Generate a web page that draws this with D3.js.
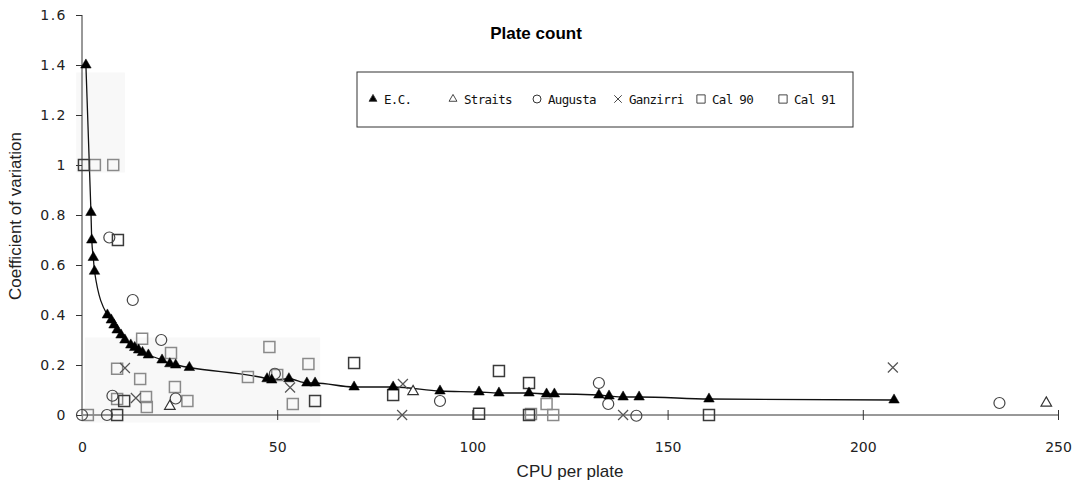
<!DOCTYPE html>
<html lang="en">
<head>
<meta charset="utf-8">
<title>Plate count</title>
<script src="https://d3js.org/d3.v7.min.js"></script>
<style>
  body { margin: 0; background: #fff; }
  .tick text { font-family: "DejaVu Sans", sans-serif; font-size: 14px; fill: #222; }
  .ytick text { letter-spacing: 1.5px; }
</style>
</head>
<body>
<svg width="1072" height="485"></svg>
<script>
// data: [CPU per plate, coefficient of variation]
var ec = [[1,1.4],[2.3,0.81],[2.5,0.70],[2.9,0.63],[3.2,0.575],[6.5,0.40],[7.5,0.38],[8.2,0.36],
          [9,0.34],[10,0.32],[11,0.30],[12.5,0.28],[13.5,0.27],[14.5,0.26],[15.5,0.25],[17,0.24],
          [20.5,0.22],[22.5,0.205],[24,0.2],[27.5,0.19],[47.4,0.145],[48.6,0.14],[53,0.145],
          [57.6,0.128],[59.7,0.128],[69.7,0.112],[79.7,0.112],[91.7,0.096],[101.7,0.092],
          [106.8,0.088],[114.5,0.088],[119,0.084],[121,0.084],[132.4,0.08],[135,0.076],
          [138.6,0.072],[142.7,0.072],[160.6,0.064],[208,0.06]];
var straits = [[22.5,0.035],[84.8,0.094],[247,0.048]];
var augusta = [[0,0],[6.4,0],[7,0.71],[7.8,0.077],[13,0.46],[20.3,0.30],[24,0.066],[49.4,0.165],
               [91.7,0.056],[132.4,0.128],[134.8,0.044],[142,-0.003],[235,0.048]];
var ganzirri = [[11,0.188],[13.8,0.068],[53.3,0.11],[82.2,0.124],[82,0],[138.6,0],[207.7,0.19]];
var cal90 = [[3.3,1.0],[8,1.0],[9,0.185],[14.9,0.144],[15.4,0.305],[22.8,0.248],[23.8,0.112],
             [9,0.064],[16.4,0.072],[16.6,0.032],[27,0.056],[1.5,0],[42.5,0.152],[48,0.272],
             [50,0.16],[58,0.204],[54,0.044],[119,0.044],[115,0.004],[120.7,0]];
var cal91 = [[0.5,1.0],[9.2,0.70],[10.8,0.056],[9,0],[59.7,0.056],[69.7,0.208],[79.7,0.08],
             [106.8,0.176],[114.5,0.128],[101.7,0.005],[114.5,0],[160.6,0]];
var xTicks = [0,50,100,150,200,250];
var yTicks = [0,0.2,0.4,0.6,0.8,1,1.2,1.4,1.6];
var legendNames = ["E.C.","Straits","Augusta","Ganzirri","Cal 90","Cal 91"];

var svg = d3.select("svg");
var x = d3.scaleLinear().domain([0,250]).range([82,1058]);
var y = d3.scaleLinear().domain([0,1.6]).range([415,15]);

// faint scan shading
svg.append("rect").attr("x", x(-1.5)).attr("y", y(1.37)).attr("width", x(11) - x(-1.5))
   .attr("height", y(0.97) - y(1.37)).attr("fill", "#f8f8f8");
svg.append("rect").attr("x", x(0.8)).attr("y", y(0.31)).attr("width", x(61) - x(0.8))
   .attr("height", y(-0.03) - y(0.31)).attr("fill", "#f8f8f8");

// axes
var gx = svg.append("g").attr("transform", "translate(0," + y(0) + ")")
  .call(d3.axisBottom(x).tickValues(xTicks).tickSize(5).tickPadding(22));
gx.selectAll(".tick line").attr("y1", -5).attr("stroke", "#333");
gx.select(".domain").attr("stroke", "#333").attr("d", "M" + x(0) + ",0H" + x(250));
var gy = svg.append("g").attr("class", "ytick").attr("transform", "translate(" + x(0) + ",0)")
  .call(d3.axisLeft(y).tickValues(yTicks).tickFormat(d3.format("~g")).tickSize(6).tickPadding(9));
gy.selectAll(".tick line").attr("stroke", "#333");
gy.select(".domain").attr("stroke", "#333").attr("d", "M0," + y(1.6) + "V" + y(0));

// fitted E.C. line
svg.append("path").datum(ec)
   .attr("fill", "none").attr("stroke", "#111").attr("stroke-width", 1.3)
   .attr("d", d3.line().x(function(d){ return x(d[0]); }).y(function(d){ return y(d[1]); })
     .curve(d3.curveMonotoneX));

var tri = d3.symbol().type(d3.symbolTriangle).size(48)();
var sq = "M-5.5,-5.5h11v11h-11z";
var crs = "M-5,-5L5,5M-5,5L5,-5";

function pts(data, path, fill, stroke, sw) {
  svg.append("g").selectAll("path").data(data).enter().append("path")
     .attr("transform", function(d){ return "translate(" + x(d[0]) + "," + y(d[1]) + ")"; })
     .attr("d", path).attr("fill", fill).attr("stroke", stroke).attr("stroke-width", sw);
}
pts(cal90, sq, "none", "#8a8a8a", 1.5);
pts(cal91, sq, "none", "#3a3a3a", 1.5);
svg.append("g").selectAll("circle").data(augusta).enter().append("circle")
   .attr("cx", function(d){ return x(d[0]); }).attr("cy", function(d){ return y(d[1]); })
   .attr("r", 5.5).attr("fill", "none").attr("stroke", "#444").attr("stroke-width", 1.2);
pts(ganzirri, crs, "none", "#555", 1.2);
pts(straits, tri, "#fff", "#333", 1.2);
pts(ec, tri, "#000", "#000", 0.5);

// title
svg.append("text").attr("x", 536).attr("y", 39).attr("text-anchor", "middle")
   .attr("font-family", "Liberation Sans, Arial, sans-serif").attr("font-weight", "bold")
   .attr("font-size", "17px").text("Plate count");

// axis titles
svg.append("text").attr("x", 570).attr("y", 477).attr("text-anchor", "middle")
   .attr("font-family", "Liberation Sans, Arial, sans-serif").attr("font-size", "17px")
   .attr("fill", "#222").text("CPU per plate");
svg.append("text").attr("transform", "translate(21,216) rotate(-90)").attr("text-anchor", "middle")
   .attr("font-family", "Liberation Sans, Arial, sans-serif").attr("font-size", "17px")
   .attr("fill", "#222").text("Coefficient of variation");

// legend
svg.append("rect").attr("x", 357).attr("y", 72).attr("width", 496).attr("height", 55)
   .attr("fill", "#fff").attr("stroke", "#333").attr("stroke-width", 1);
var legX = [373, 453, 537, 618, 701, 783];
var legMark = [tri, tri, null, crs, sq, sq];
legendNames.forEach(function(name, i) {
  var g = svg.append("g").attr("transform", "translate(" + legX[i] + ",99)");
  if (i == 2) {
    g.append("circle").attr("r", 4).attr("fill", "none").attr("stroke", "#333");
  } else {
    g.append("path").attr("d", legMark[i]).attr("transform", "scale(0.75)")
     .attr("fill", i == 0 ? "#000" : "none").attr("stroke", "#333").attr("stroke-width", 1.2);
  }
  g.append("text").attr("x", 11).attr("y", 5).attr("font-family", "DejaVu Sans Mono, monospace")
   .attr("font-size", "12.5px").attr("letter-spacing", "-0.7px").attr("fill", "#111").text(name);
});
</script>
</body>
</html>
